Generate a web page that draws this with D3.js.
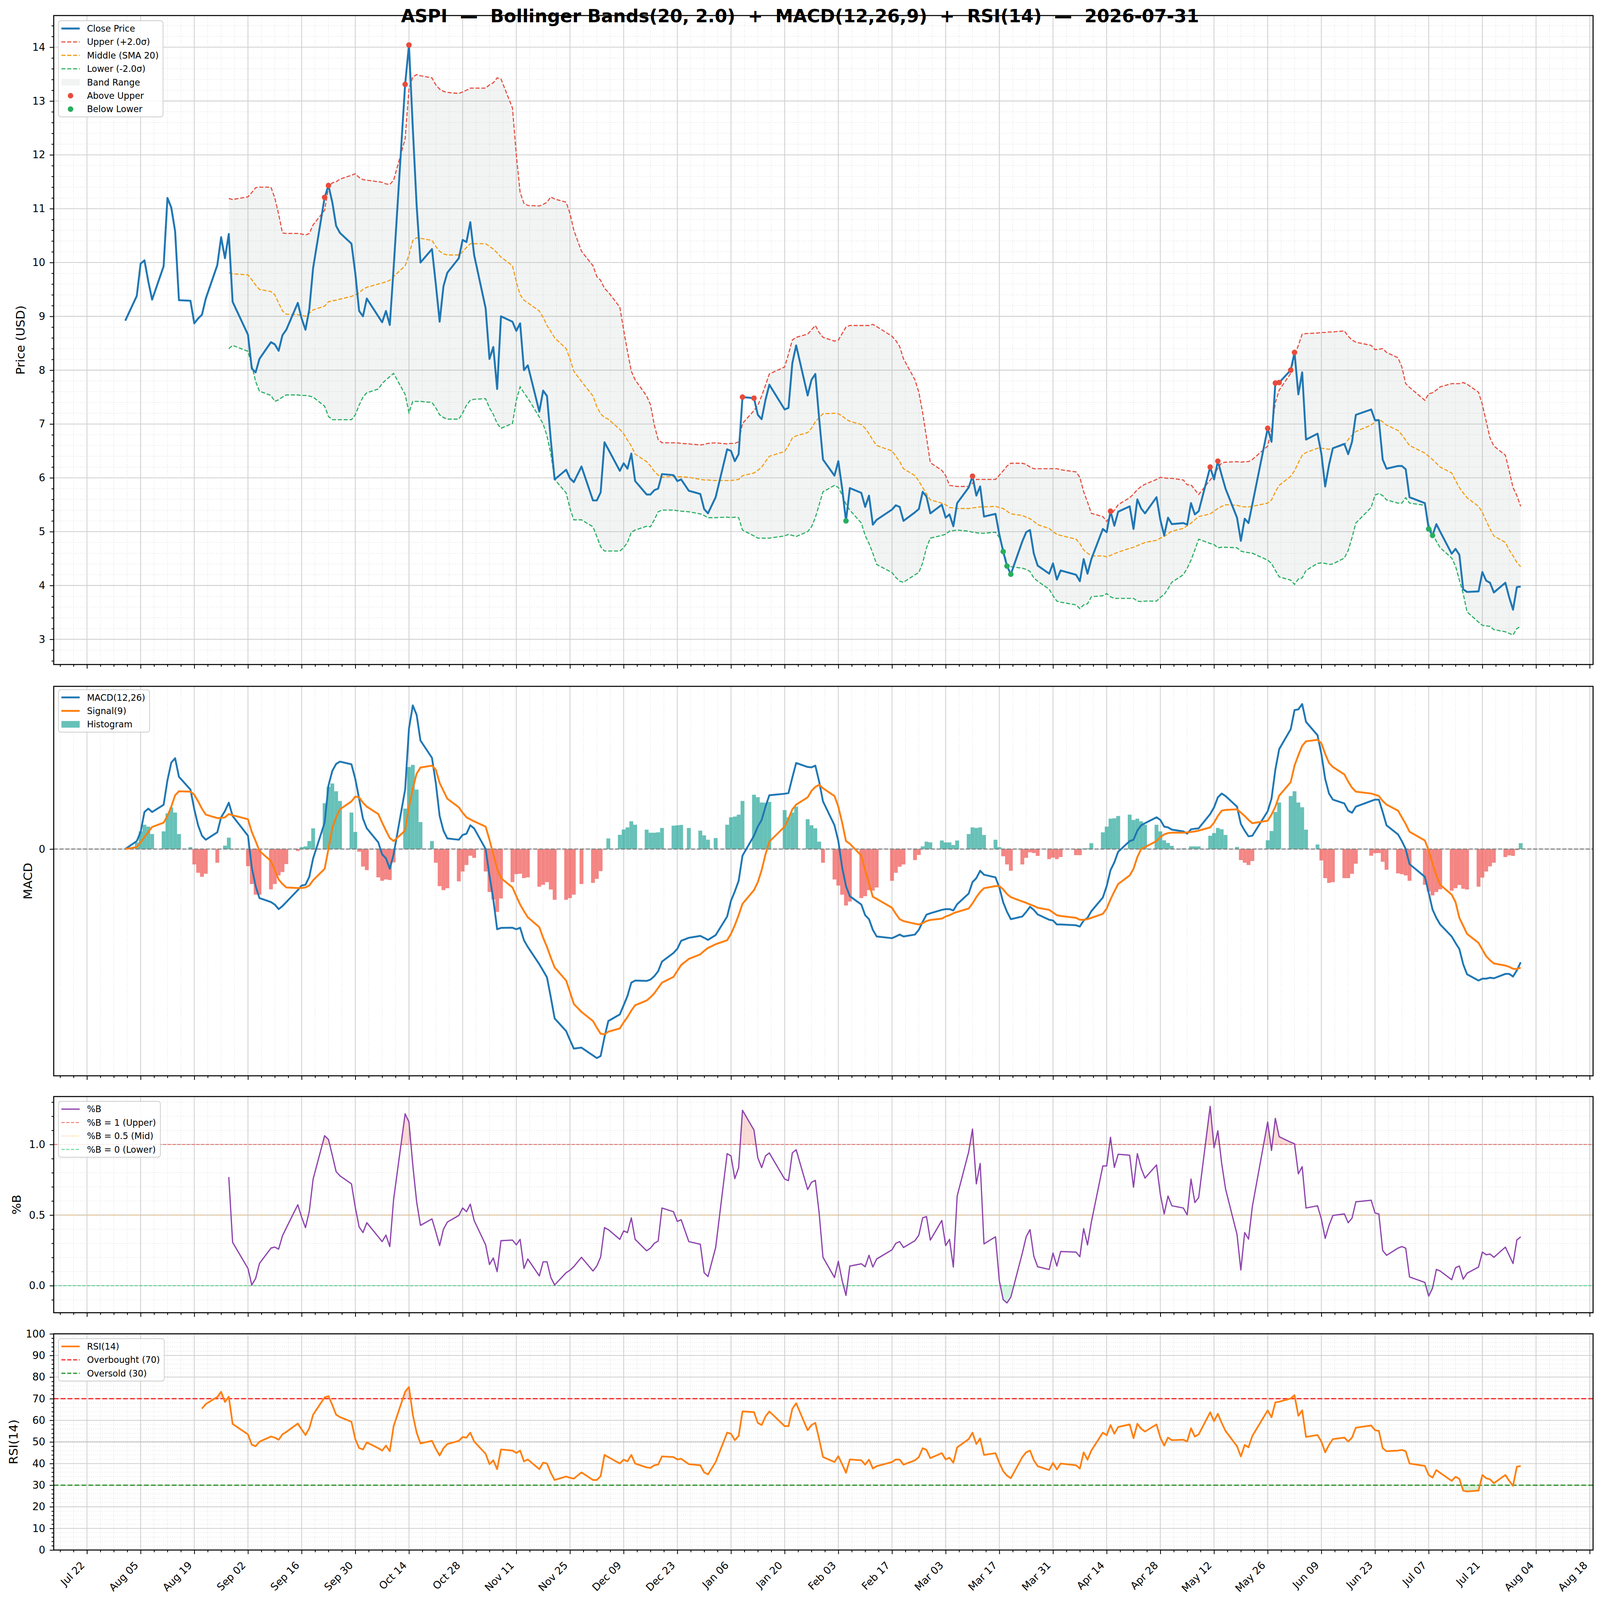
<!DOCTYPE html>
<html lang="en">
<head>
  <meta charset="UTF-8">
  <title>ASPI Bollinger / MACD / RSI</title>
  <script src="https://cdn.jsdelivr.net/npm/d3@7"></script>
  <style>
    html, body { margin: 0; padding: 0; background: #fff; overflow: hidden; width: 100%; height: 100%; }
    #chart { width: 100vw; height: 100vh; }
    svg { display: block; width: 100vw; height: 100vh; }
  </style>
</head>
<body>
  <div id="chart"></div>
  <script>
    // ---- data ----
    const tradingStart = '2025-08-01';
    const tradingEnd = '2026-07-31';
    const holidays = ['2025-09-01', '2025-11-27', '2025-12-25', '2026-01-01', '2026-01-19',
      '2026-02-16', '2026-04-03', '2026-05-25', '2026-06-19', '2026-07-03'];

    // one value per trading day, week by week
    const closePrice = [8.92,
      9.38, 9.98, 10.04, 9.65, 9.31,  9.93, 11.20, 11.02, 10.58, 9.30,  9.29, 8.87, 8.96, 9.03, 9.33,
      9.95, 10.47, 10.08, 10.53, 9.27,  8.66, 8.03, 7.96, 8.21,  8.52, 8.48, 8.36, 8.65, 8.75,
      9.25, 8.96, 8.75, 9.13, 9.90,  11.21, 11.43, 11.12, 10.68, 10.55,  10.35, 9.80, 9.10, 9.00, 9.33,
      9.00, 8.89, 9.10, 8.84, 9.90,  13.31, 14.04, 12.50, 11.06, 10.00,  10.25, 9.60, 8.90, 9.56, 9.81,
      10.08, 10.42, 10.38, 10.75, 10.14,  9.15, 8.21, 8.43, 7.65, 9.00,  8.90, 8.73, 8.87, 8.00, 8.09,
      7.23, 7.62, 7.52, 6.70, 5.97,  6.15, 5.99, 5.92, 6.21,  5.58, 5.58, 5.73, 6.66, 6.53,
      6.13, 6.27, 6.17, 6.45, 5.94,  5.69, 5.69, 5.77, 5.80, 6.07,  6.05, 5.94, 5.97, 5.76,
      5.70, 5.42, 5.34, 5.64,  6.53, 6.50, 6.31, 6.44, 7.50,  7.48, 7.17, 7.09, 7.45, 7.73,
      7.27, 7.30, 8.13, 8.46,  7.53, 7.82, 7.93, 7.10, 6.34,  6.04, 6.31, 5.80, 5.20, 5.81,
      5.72, 5.46, 5.67, 5.13, 5.22,  5.41, 5.49, 5.46, 5.20,  5.36, 5.42, 5.74, 5.65, 5.34,
      5.50, 5.26, 5.32, 5.10, 5.53,  5.82, 6.03, 5.67, 5.84, 5.28,  5.33, 4.95, 4.63, 4.36, 4.21,
      4.82, 4.99, 5.03, 4.59, 4.37,  4.22, 4.41, 4.11, 4.28,  4.20, 4.08, 4.49, 4.22, 4.49,
      5.05, 4.99, 5.38, 5.11, 5.37,  5.47, 5.05, 5.60, 5.43, 5.34,  5.64, 5.22, 4.93, 5.26, 5.14,
      5.16, 5.13, 5.53, 5.32, 5.38,  6.20, 5.97, 6.31, 6.05, 5.80,  5.26, 4.83, 5.24, 5.16, 5.51,
      6.92, 6.67, 7.76, 7.77,  8.00, 8.33, 7.55, 7.96, 6.71,  6.82, 6.45, 5.84, 6.24, 6.55,
      6.63, 6.44, 6.67, 7.17,  7.27, 7.07, 7.07, 6.34, 6.17,  6.22, 6.22, 6.16, 5.64,
      5.53, 5.05, 4.93, 5.14, 5.00,  4.59, 4.68, 4.57, 3.93, 3.88,  3.89, 4.25, 4.09, 4.05, 3.87,
      4.05, 3.78, 3.55, 3.97, 3.98];

    const bandStart = '2025-08-28';
    const upperBand = [11.19, 11.17,
      11.22, 11.30, 11.39, 11.40,  11.40, 11.20, 10.90, 10.55, 10.54,  10.54, 10.53, 10.51, 10.54, 10.70,
      10.97, 11.40, 11.48, 11.50, 11.55,  11.62, 11.65, 11.58, 11.54, 11.53,  11.50, 11.49, 11.46, 11.45, 11.53,
      12.30, 13.22, 13.45, 13.49, 13.47,  13.43, 13.30, 13.22, 13.18, 13.16,  13.14, 13.17, 13.20, 13.24, 13.24,
      13.24, 13.30, 13.34, 13.43, 13.41,  12.87, 12.00, 11.30, 11.10, 11.06,  11.05, 11.08, 11.12, 11.22, 11.18,
      11.12, 10.91, 10.60, 10.21,  9.94, 9.74, 9.67, 9.52, 9.45,  9.17, 8.75, 8.35, 7.98, 7.82,
      7.52, 7.36, 6.98, 6.71, 6.65,  6.65, 6.65, 6.64, 6.63,  6.61, 6.62, 6.64, 6.65,
      6.63, 6.64, 6.64, 6.67, 7.01,  7.25, 7.35, 7.52, 7.72, 7.93,  8.06, 8.30, 8.56, 8.61,
      8.67, 8.75, 8.83, 8.70, 8.61,  8.54, 8.56, 8.68, 8.80, 8.83,  8.83, 8.83, 8.83, 8.85, 8.81,
      8.63, 8.55, 8.44, 8.21,  7.82, 7.59, 7.21, 6.75, 6.28,  6.14, 6.04, 5.86, 5.85, 5.84,
      5.84, 5.90, 5.97, 5.97, 5.97,  5.97, 6.05, 6.13, 6.22, 6.27,  6.27, 6.25, 6.20, 6.17, 6.17,
      6.17, 6.17, 6.17, 6.15,  6.11, 6.01, 5.74, 5.55, 5.34,  5.28, 5.19, 5.30, 5.40, 5.50,
      5.63, 5.70, 5.78, 5.84, 5.88,  5.97, 6.01, 6.00, 5.99, 5.99,  5.96, 5.87, 5.87, 5.78, 5.69,
      5.96, 6.05, 6.18, 6.28, 6.29,  6.30, 6.29, 6.30, 6.30, 6.34,  6.59, 6.90, 7.40, 7.63,
      7.94, 8.27, 8.46, 8.67, 8.68,  8.69, 8.70, 8.70, 8.71, 8.71,  8.73, 8.63, 8.56, 8.52,
      8.46, 8.38, 8.39, 8.40, 8.33,  8.23, 8.06, 7.75, 7.68,  7.44, 7.56, 7.58, 7.63, 7.69,
      7.75, 7.75, 7.75, 7.77, 7.74,  7.59, 7.36, 7.05, 6.74, 6.59,  6.42, 6.13, 5.82, 5.67, 5.47];

    const middleBand = [9.81, 9.79,
      9.77, 9.68, 9.58, 9.50,  9.46, 9.40, 9.25, 9.10, 9.04,  9.03, 9.02, 9.00, 9.06, 9.12,
      9.19, 9.27, 9.29, 9.30, 9.32,  9.37, 9.40, 9.44, 9.50, 9.54,  9.60, 9.62, 9.64, 9.67, 9.74,
      9.94, 10.14, 10.41, 10.46, 10.45,  10.41, 10.30, 10.21, 10.16, 10.14,  10.14, 10.20, 10.28, 10.35, 10.35,
      10.35, 10.30, 10.25, 10.18, 10.10,  9.94, 9.64, 9.40, 9.30, 9.25,  9.10, 8.98, 8.83, 8.72, 8.60,
      8.40, 8.21, 7.98, 7.79,  7.52, 7.32, 7.19, 7.12, 7.09,  6.90, 6.82, 6.70, 6.59, 6.44,
      6.30, 6.22, 6.12, 6.05, 6.01,  6.03, 6.02, 6.02, 6.01,  5.97, 5.96, 5.96, 5.95,
      5.95, 5.95, 5.96, 5.97, 6.04,  6.09, 6.14, 6.20, 6.30, 6.40,  6.49, 6.60, 6.74, 6.78,
      6.84, 6.92, 7.04, 7.12, 7.19,  7.20, 7.19, 7.15, 7.09, 7.05,  6.99, 6.92, 6.82, 6.70, 6.60,
      6.50, 6.40, 6.30, 6.17,  6.04, 5.94, 5.82, 5.70, 5.59,  5.53, 5.50, 5.45, 5.44, 5.43,
      5.43, 5.44, 5.45, 5.46, 5.46,  5.47, 5.45, 5.43, 5.38, 5.33,  5.30, 5.27, 5.24, 5.19, 5.13,
      5.06, 5.00, 4.95, 4.93,  4.86, 4.78, 4.66, 4.60, 4.55,  4.55, 4.53, 4.56, 4.59, 4.62,
      4.69, 4.71, 4.74, 4.77, 4.80,  4.84, 4.88, 4.91, 4.96, 5.01,  5.06, 5.11, 5.16, 5.22, 5.28,
      5.33, 5.38, 5.43, 5.47, 5.50,  5.49, 5.47, 5.46, 5.46, 5.47,  5.53, 5.59, 5.74, 5.86,
      6.03, 6.13, 6.28, 6.42, 6.47,  6.55, 6.55, 6.54, 6.53, 6.55,  6.61, 6.71, 6.79, 6.86,
      6.98, 7.04, 7.09, 7.04, 6.98,  6.88, 6.80, 6.70, 6.60,  6.46, 6.40, 6.34, 6.27, 6.20,
      6.09, 5.95, 5.82, 5.72, 5.63,  5.47, 5.36, 5.20, 5.05, 4.92,  4.80, 4.66, 4.55, 4.43, 4.35];

    const lowerBand = [8.40, 8.46,
      8.35, 8.09, 7.79, 7.61,  7.53, 7.42, 7.45, 7.50, 7.54,  7.54, 7.53, 7.53, 7.52, 7.50,
      7.33, 7.14, 7.08, 7.08, 7.08,  7.08, 7.17, 7.35, 7.50, 7.58,  7.65, 7.75, 7.82, 7.88, 7.94,
      7.55, 7.21, 7.42, 7.42, 7.42,  7.40, 7.30, 7.17, 7.12, 7.09,  7.09, 7.20, 7.35, 7.44, 7.46,
      7.47, 7.30, 7.18, 7.01, 6.92,  7.01, 7.44, 7.69, 7.58, 7.48,  7.13, 7.00, 6.78, 6.45, 5.97,
      5.72, 5.43, 5.22, 5.22,  5.09, 4.91, 4.72, 4.64, 4.64,  4.64, 4.70, 4.80, 4.99, 5.03,
      5.10, 5.09, 5.22, 5.37, 5.40,  5.40, 5.39, 5.38, 5.37,  5.33, 5.30, 5.26, 5.26,
      5.27, 5.26, 5.27, 5.26, 5.03,  4.92, 4.88, 4.88, 4.88, 4.88,  4.92, 4.95, 4.93, 4.91,
      5.00, 5.09, 5.26, 5.50, 5.74,  5.86, 5.82, 5.68, 5.51, 5.40,  5.16, 4.93, 4.78, 4.60, 4.39,
      4.24, 4.15, 4.08, 4.06,  4.20, 4.24, 4.42, 4.70, 4.88,  4.93, 4.95, 5.01, 5.02, 5.03,
      5.01, 4.99, 4.98, 4.97, 4.97,  4.99, 4.89, 4.68, 4.40, 4.35,  4.32, 4.30, 4.26, 4.14, 4.08,
      3.93, 3.81, 3.71, 3.69,  3.64, 3.57, 3.64, 3.66, 3.79,  3.81, 3.85, 3.79, 3.76, 3.76,
      3.76, 3.76, 3.71, 3.70, 3.71,  3.71, 3.78, 3.83, 3.94, 4.06,  4.20, 4.32, 4.47, 4.66, 4.86,
      4.78, 4.76, 4.70, 4.71, 4.71,  4.70, 4.64, 4.62, 4.61, 4.60,  4.47, 4.41, 4.28, 4.16,
      4.10, 4.02, 4.12, 4.14, 4.28,  4.41, 4.42, 4.41, 4.39, 4.40,  4.51, 4.65, 4.89, 5.16,
      5.45, 5.68, 5.71, 5.67, 5.59,  5.53, 5.53, 5.63, 5.53,  5.49, 5.13, 4.97, 4.82, 4.70,
      4.51, 4.36, 4.10, 3.85, 3.51,  3.32, 3.26, 3.25, 3.24, 3.18,  3.14, 3.11, 3.08, 3.20, 3.24];

    const aboveUpperDates = ['2025-09-22', '2025-09-23', '2025-10-13', '2025-10-14', '2026-01-09',
      '2026-01-12', '2026-03-10', '2026-04-15', '2026-05-11', '2026-05-13', '2026-05-26',
      '2026-05-28', '2026-05-29', '2026-06-01', '2026-06-02'];
    const belowLowerDates = ['2026-02-05', '2026-03-18', '2026-03-19', '2026-03-20', '2026-07-07', '2026-07-08'];

    const macdLine = [0,
      0.042, 0.09, 0.195, 0.213, 0.195,  0.233, 0.362, 0.455, 0.478, 0.38,  0.313, 0.209, 0.125, 0.07, 0.049,
      0.088, 0.167, 0.2, 0.244, 0.174,  0.07, -0.097, -0.195, -0.258,  -0.279, -0.292, -0.316, -0.3, -0.279,
      -0.216, -0.192, -0.188, -0.146, -0.049,  0.139, 0.334, 0.411, 0.448, 0.46,  0.446, 0.369, 0.265, 0.16, 0.109,
      0.035, -0.028, -0.049, -0.104, -0.028,  0.313, 0.634, 0.756, 0.706, 0.571,  0.48, 0.348, 0.174, 0.097, 0.056,
      0.049, 0.074, 0.081, 0.125, 0.109,  0.0, -0.139, -0.265, -0.422, -0.415,  -0.414, -0.422, -0.414, -0.48, -0.515,
      -0.606, -0.64, -0.675, -0.78, -0.891,  -0.958, -1.005, -1.05, -1.045,  -1.086, -1.1, -1.089, -0.99, -0.905,
      -0.87, -0.822, -0.773, -0.703, -0.692,  -0.694, -0.687, -0.669, -0.643, -0.592,  -0.547, -0.525, -0.483, -0.467,
      -0.457, -0.467, -0.478, -0.453,  -0.355, -0.272, -0.223, -0.167, -0.035,  0.07, 0.118, 0.153, 0.223, 0.283,
      0.291, 0.295, 0.376, 0.453,  0.432, 0.43, 0.439, 0.355, 0.251,  0.125, 0.042, -0.097, -0.195, -0.248,
      -0.292, -0.348, -0.369, -0.425, -0.46,  -0.469, -0.46, -0.45, -0.46,  -0.45, -0.425, -0.383, -0.345, -0.338,
      -0.32, -0.316, -0.316, -0.323, -0.29,  -0.234, -0.174, -0.153, -0.114, -0.135,  -0.149, -0.202, -0.28, -0.33, -0.369,
      -0.355, -0.331, -0.304, -0.32, -0.344,  -0.372, -0.376, -0.397, -0.397,  -0.401, -0.408, -0.376, -0.362, -0.327,
      -0.255, -0.195, -0.111, -0.07, -0.014,  0.042, 0.049, 0.097, 0.125, 0.136,  0.167, 0.153, 0.118, 0.114, 0.102,
      0.093, 0.081, 0.104, 0.107, 0.109,  0.184, 0.219, 0.272, 0.292, 0.279,  0.223, 0.132, 0.097, 0.067, 0.07,
      0.199, 0.265, 0.418, 0.526,  0.63, 0.731, 0.735, 0.763, 0.669,  0.599, 0.501, 0.369, 0.292, 0.26,
      0.24, 0.202, 0.191, 0.223,  0.253, 0.26, 0.26, 0.195, 0.125,  0.077, 0.042, 0.0, -0.079,
      -0.146, -0.23, -0.318, -0.362, -0.397,  -0.46, -0.494, -0.526, -0.606, -0.659,  -0.692, -0.682, -0.682, -0.677, -0.68,
      -0.657, -0.657, -0.671, -0.638, -0.596];

    const signalLine = [0,
      0.01, 0.035, 0.063, 0.09, 0.116,  0.139, 0.174, 0.223, 0.283, 0.304,  0.302, 0.286, 0.251, 0.212, 0.181,
      0.163, 0.164, 0.167, 0.184, 0.178,  0.157, 0.09, 0.042, -0.01,  -0.063, -0.111, -0.16, -0.184, -0.202,
      -0.205, -0.205, -0.202, -0.192, -0.164,  -0.104, 0.0, 0.111, 0.167, 0.209,  0.251, 0.276, 0.272, 0.244, 0.223,
      0.184, 0.139, 0.097, 0.058, 0.042,  0.097, 0.223, 0.318, 0.397, 0.429,  0.439, 0.418, 0.348, 0.306, 0.265,
      0.22, 0.191, 0.167, 0.156, 0.146,  0.118, 0.049, -0.028, -0.104, -0.153,  -0.202, -0.248, -0.292, -0.327, -0.359,
      -0.411, -0.467, -0.515, -0.571, -0.623,  -0.692, -0.752, -0.815, -0.857,  -0.905, -0.94, -0.972, -0.975, -0.961,
      -0.944, -0.912, -0.884, -0.85, -0.822,  -0.797, -0.78, -0.759, -0.731, -0.703,  -0.673, -0.641, -0.61, -0.578,
      -0.554, -0.536, -0.52, -0.501,  -0.48, -0.446, -0.401, -0.348, -0.288,  -0.216, -0.174, -0.111, -0.028, 0.039,
      0.118, 0.16, 0.209, 0.234,  0.272, 0.306, 0.327, 0.338, 0.32,  0.279, 0.223, 0.139, 0.042, 0.028,
      -0.035, -0.111, -0.181, -0.251, -0.262,  -0.309, -0.341, -0.369, -0.379,  -0.393, -0.397, -0.39, -0.379, -0.373,
      -0.366, -0.355, -0.348, -0.338, -0.331,  -0.313, -0.286, -0.253, -0.226, -0.206,  -0.195, -0.195, -0.212, -0.237, -0.253,
      -0.276, -0.283, -0.292, -0.299, -0.309,  -0.32, -0.334, -0.348, -0.352,  -0.362, -0.372, -0.372, -0.369, -0.362,
      -0.341, -0.313, -0.265, -0.223, -0.184,  -0.139, -0.104, -0.042, 0.0, 0.01,  0.042, 0.063, 0.077, 0.084, 0.086,
      0.086, 0.088, 0.09, 0.093, 0.097,  0.114, 0.139, 0.174, 0.202, 0.206,  0.209, 0.192, 0.174, 0.153, 0.136,
      0.149, 0.181, 0.223, 0.281,  0.352, 0.439, 0.494, 0.543, 0.567,  0.575, 0.557, 0.501, 0.453, 0.432,
      0.393, 0.355, 0.323, 0.302,  0.292, 0.286, 0.279, 0.253, 0.234,  0.202, 0.167, 0.132, 0.091,
      0.045, -0.007, -0.077, -0.139, -0.188,  -0.24, -0.279, -0.362, -0.404, -0.446,  -0.494, -0.529, -0.564, -0.585, -0.602,
      -0.613, -0.62, -0.63, -0.631, -0.624];

    const macdHist = [0,
      0.035, 0.093, 0.128, 0.118, 0.079,  0.093, 0.188, 0.219, 0.192, 0.079,  0.01, -0.081, -0.125, -0.146, -0.13,
      -0.072, 0.0, 0.018, 0.06, -0.003,  -0.09, -0.184, -0.24, -0.24,  -0.212, -0.184, -0.139, -0.121, -0.079,
      -0.01, 0.01, 0.014, 0.042, 0.109,  0.241, 0.327, 0.345, 0.304, 0.253,  0.192, 0.09, -0.014, -0.092, -0.111,
      -0.149, -0.167, -0.16, -0.163, -0.07,  0.213, 0.432, 0.443, 0.313, 0.142,  0.042, -0.072, -0.195, -0.216, -0.206,
      -0.17, -0.118, -0.084, -0.035, -0.046,  -0.118, -0.226, -0.265, -0.331, -0.26,  -0.174, -0.132, -0.13, -0.153, -0.149,
      -0.198, -0.188, -0.174, -0.213, -0.267,  -0.267, -0.258, -0.24, -0.184,  -0.178, -0.157, -0.116, -0.003, 0.056,
      0.075, 0.103, 0.114, 0.146, 0.128,  0.102, 0.086, 0.086, 0.088, 0.111,  0.123, 0.125, 0.127, 0.111,
      0.097, 0.072, 0.049, 0.058,  0.128, 0.167, 0.171, 0.181, 0.253,  0.286, 0.273, 0.245, 0.244, 0.248,
      0.205, 0.167, 0.192, 0.223,  0.157, 0.125, 0.109, 0.039, -0.072,  -0.16, -0.192, -0.24, -0.297, -0.276,
      -0.258, -0.248, -0.216, -0.219, -0.202,  -0.167, -0.125, -0.093, -0.081,  -0.058, -0.031, 0.014, 0.039, 0.035,
      0.045, 0.035, 0.035, 0.021, 0.045,  0.079, 0.114, 0.111, 0.114, 0.074,  0.049, 0.01, -0.038, -0.081, -0.114,
      -0.081, -0.046, -0.017, -0.021, -0.036,  -0.053, -0.045, -0.053, -0.042,  -0.032, -0.032, 0.003, 0.004, 0.031,
      0.088, 0.118, 0.16, 0.162, 0.174,  0.181, 0.153, 0.16, 0.146, 0.128,  0.128, 0.093, 0.046, 0.032, 0.017,
      0.004, 0.0, 0.014, 0.014, 0.014,  0.07, 0.084, 0.111, 0.104, 0.074,  0.011, -0.058, -0.072, -0.084, -0.063,
      0.046, 0.095, 0.195, 0.245,  0.279, 0.304, 0.245, 0.22, 0.102,  0.024, -0.06, -0.153, -0.178, -0.174,
      -0.153, -0.153, -0.13, -0.077,  -0.035, -0.022, -0.021, -0.067, -0.109,  -0.128, -0.132, -0.139, -0.167,
      -0.188, -0.223, -0.244, -0.226, -0.212,  -0.219, -0.206, -0.189, -0.209, -0.213,  -0.198, -0.15, -0.118, -0.091, -0.072,
      -0.042, -0.033, -0.036, -0.005, 0.031];

    const percentB = [0.769, 0.307,
      0.122, 0.005, 0.051, 0.157,  0.266, 0.273, 0.259, 0.353, 0.409,  0.573, 0.485, 0.411, 0.527, 0.755,
      1.062, 1.035, 0.924, 0.808, 0.778,  0.721, 0.554, 0.416, 0.376, 0.446,  0.346, 0.312, 0.358, 0.277, 0.612,
      1.217, 1.159, 0.854, 0.594, 0.427,  0.473, 0.381, 0.284, 0.4, 0.45,  0.497, 0.55, 0.524, 0.577, 0.462,
      0.289, 0.15, 0.196, 0.099, 0.319,  0.323, 0.289, 0.328, 0.122, 0.189,  0.069, 0.169, 0.169, 0.058, 0.005,
      0.092, 0.109, 0.135, 0.201,  0.104, 0.139, 0.203, 0.411, 0.397,  0.328, 0.388, 0.376, 0.48, 0.328,
      0.247, 0.266, 0.3, 0.316, 0.55,  0.524, 0.455, 0.467, 0.312,  0.293, 0.092, 0.065, 0.27,
      0.935, 0.919, 0.758, 0.836, 1.242,  1.102, 0.905, 0.836, 0.919, 0.94,  0.755, 0.744, 0.94, 0.963,
      0.681, 0.732, 0.746, 0.515, 0.201,  0.058, 0.173, 0.035, -0.069, 0.139,  0.155, 0.134, 0.215, 0.132, 0.189,
      0.254, 0.3, 0.312, 0.27,  0.319, 0.358, 0.48, 0.49, 0.323,  0.462, 0.284, 0.328, 0.132, 0.635,
      0.947, 1.109, 0.721, 0.866, 0.296,  0.346, 0.035, -0.099, -0.122, -0.081,  0.231, 0.346, 0.397, 0.208, 0.134,
      0.115, 0.231, 0.139, 0.242,  0.238, 0.205, 0.404, 0.289, 0.45,  0.848, 0.848, 1.051, 0.838, 0.931,
      0.924, 0.697, 0.935, 0.831, 0.762,  0.855, 0.647, 0.508, 0.635, 0.566,  0.55, 0.501, 0.755, 0.589, 0.624,
      1.27, 0.977, 1.097, 0.866, 0.686,  0.363, 0.111, 0.376, 0.33, 0.561,  1.159, 0.958, 1.185, 1.055,
      1.016, 1.005, 0.792, 0.843, 0.55,  0.566, 0.473, 0.335, 0.427, 0.497,  0.508, 0.446, 0.478, 0.594,
      0.605, 0.515, 0.508, 0.249, 0.215,  0.266, 0.277, 0.266, 0.062,  0.023, -0.074, -0.018, 0.115, 0.104,
      0.042, 0.127, 0.139, 0.046, 0.088,  0.132, 0.238, 0.219, 0.224, 0.201,  0.273, 0.215, 0.157, 0.323, 0.346];

    const rsiStart = '2025-08-21';
    const rsi14 = [65.4, 67.5,
      70.8, 73.2, 68.5, 70.9, 58.3,  53.5, 48.7, 48.0, 50.1,  52.5, 52.0, 51.0, 53.5, 54.6,
      58.5, 55.8, 53.2, 56.3, 62.6,  70.6, 71.2, 67.1, 62.6, 61.5,  59.3, 51.3, 47.2, 46.5, 49.8,
      47.1, 46.0, 48.3, 45.7, 57.3,  73.2, 75.4, 62.6, 54.3, 49.3,  50.5, 46.8, 43.7, 47.1, 49.0,
      50.5, 52.3, 52.0, 54.3, 50.2,  44.5, 39.7, 41.5, 37.4, 46.5,  46.0, 44.9, 46.0, 41.0, 41.9,
      37.4, 40.4, 40.0, 35.7, 32.4,  34.0, 33.4, 33.0, 35.9,  32.4, 32.4, 34.2, 44.0, 43.0,
      40.0, 41.8, 41.0, 44.0, 40.0,  38.2, 38.0, 39.2, 39.5, 43.3,  43.0, 41.9, 42.2, 39.7,
      39.2, 35.9, 35.0, 40.7,  54.3, 53.8, 50.8, 52.8, 64.1,  63.8, 58.8, 57.8, 61.8, 64.1,
      57.3, 57.3, 65.3, 67.9,  55.4, 57.8, 58.8, 51.3, 43.0,  40.7, 43.4, 39.7, 35.7, 41.9,
      41.5, 39.5, 41.8, 37.7, 38.8,  40.7, 41.9, 41.8, 39.5,  41.5, 43.0, 47.1, 46.3, 42.5,
      44.8, 41.9, 42.7, 40.4, 47.5,  51.3, 54.3, 49.0, 51.6, 44.0,  44.8, 40.3, 36.5, 34.4, 33.2,
      43.0, 45.2, 46.0, 41.5, 38.8,  37.0, 40.3, 37.3, 40.0,  39.2, 37.7, 45.2, 41.8, 46.0,
      54.3, 53.1, 57.8, 53.8, 56.9,  58.1, 51.7, 58.4, 56.1, 54.8,  58.1, 52.0, 48.3, 52.0, 50.8,
      51.0, 50.2, 56.3, 52.5, 53.5,  63.7, 59.6, 63.0, 58.8, 55.1,  48.0, 43.3, 48.6, 47.5, 52.8,
      64.6, 61.4, 68.3, 68.6,  70.1, 71.6, 62.1, 64.6, 52.3,  53.2, 50.2, 45.2, 48.6, 51.3,
      52.0, 50.2, 52.0, 56.6,  57.6, 55.4, 55.1, 47.1, 45.7,  46.0, 46.3, 45.7, 40.0,
      38.9, 34.7, 33.5, 37.0, 35.7,  32.0, 33.9, 32.9, 27.5, 27.1,  27.5, 34.7, 33.2, 32.7, 30.9,
      34.7, 32.0, 29.7, 38.5, 38.9];

    const firstTick = '2025-07-22';
    const tickStepDays = 14;
    const tickCount = 29;
    const titleText = 'ASPI  \u2014  Bollinger Bands(20, 2.0)  +  MACD(12,26,9)  +  RSI(14)  \u2014  2026-07-31';

    // ---- layout ----
    const W = 4378, H = 4322;
    const plotLeft = 147, plotRight = 4359;
    const panels = {
      price: { top: 42, bottom: 1795 },
      macd: { top: 1854, bottom: 2906 },
      pctb: { top: 2962, bottom: 3546 },
      rsi: { top: 3603, bottom: 4187 }
    };
    const FONT = "'DejaVu Sans', 'Liberation Sans', sans-serif";

    const parse = d3.utcParse('%Y-%m-%d');
    const fmtDay = d3.utcFormat('%Y-%m-%d');
    const holidaySet = new Set(holidays);
    const days = d3.utcDays(parse(tradingStart), d3.utcDay.offset(parse(tradingEnd), 1))
      .filter(d => d.getUTCDay() % 6 !== 0 && !holidaySet.has(fmtDay(d)));

    function series(start, values) {
      const i0 = days.findIndex(d => fmtDay(d) === start);
      if (i0 + values.length !== days.length) console.warn('length mismatch', start, values.length, days.length - i0);
      return values.map((v, i) => ({ date: days[i0 + i], value: v })).filter(p => p.date);
    }

    const closeS = series(tradingStart, closePrice);
    const upperS = series(bandStart, upperBand);
    const middleS = series(bandStart, middleBand);
    const lowerS = series(bandStart, lowerBand);
    const pctS = series(bandStart, percentB);
    const rsiS = series(rsiStart, rsi14);
    const macdS = series(tradingStart, macdLine);
    const signalS = series(tradingStart, signalLine);
    const histS = series(tradingStart, macdHist);
    const closeByDay = new Map(closeS.map(p => [fmtDay(p.date), p.value]));

    // ---- scales ----
    const x = d3.scaleUtc()
      .domain([new Date(Date.UTC(2025, 6, 13, 8)), new Date(Date.UTC(2026, 7, 18, 21))])
      .range([plotLeft, plotRight]);

    function padded(vals) {
      const [lo, hi] = d3.extent(vals);
      const m = (hi - lo) * 0.05;
      return [lo - m, hi + m];
    }
    const yPrice = d3.scaleLinear()
      .domain(padded([...closePrice, ...upperBand, ...lowerBand]))
      .range([panels.price.bottom, panels.price.top]);
    const yMacd = d3.scaleLinear()
      .domain(padded([...macdLine, ...signalLine, ...macdHist]))
      .range([panels.macd.bottom, panels.macd.top]);
    const yPct = d3.scaleLinear()
      .domain(padded(percentB))
      .range([panels.pctb.bottom, panels.pctb.top]);
    const yRsi = d3.scaleLinear().domain([0, 100]).range([panels.rsi.bottom, panels.rsi.top]);

    const xMajor = d3.range(tickCount).map(i => d3.utcDay.offset(parse(firstTick), i * tickStepDays));
    const xMinor = d3.range(-8, tickCount * 4 + 4)
      .map(i => d3.utcHour.offset(parse(firstTick), i * 84))
      .filter((d, i) => (i % 4 !== 0) && d >= x.domain()[0] && d <= x.domain()[1]);

    // ---- svg (scaled to whatever the window really is) ----
    const svg = d3.select('#chart').append('svg')
      .attr('viewBox', `0 0 ${W} ${H}`)
      .attr('preserveAspectRatio', 'none')
      .style('font-family', FONT);
    svg.append('rect').attr('width', W).attr('height', H).attr('fill', '#ffffff');
    const defs = svg.append('defs');

    Object.entries(panels).forEach(([k, p]) => {
      defs.append('clipPath').attr('id', 'clip-' + k).append('rect')
        .attr('x', plotLeft).attr('y', p.top).attr('width', plotRight - plotLeft).attr('height', p.bottom - p.top);
    });

    function grid(p, y, majorY, minorY) {
      const g = svg.append('g');
      const w = plotRight - plotLeft;
      g.selectAll('.vmin').data(xMinor).join('line')
        .attr('x1', d => x(d)).attr('x2', d => x(d)).attr('y1', p.top).attr('y2', p.bottom)
        .attr('stroke', '#dedede').attr('stroke-width', 1.6).attr('stroke-dasharray', '2,4');
      g.selectAll('.hmin').data(minorY).join('line')
        .attr('x1', plotLeft).attr('x2', plotLeft + w).attr('y1', d => y(d)).attr('y2', d => y(d))
        .attr('stroke', '#dedede').attr('stroke-width', 1.6).attr('stroke-dasharray', '2,4');
      g.selectAll('.vmaj').data(xMajor).join('line')
        .attr('x1', d => x(d)).attr('x2', d => x(d)).attr('y1', p.top).attr('y2', p.bottom)
        .attr('stroke', '#cfcfcf').attr('stroke-width', 2.2);
      g.selectAll('.hmaj').data(majorY).join('line')
        .attr('x1', plotLeft).attr('x2', plotLeft + w).attr('y1', d => y(d)).attr('y2', d => y(d))
        .attr('stroke', '#cfcfcf').attr('stroke-width', 2.2);
    }

    function axes(p, y, majorY, minorY, yFmt, withLabels) {
      const g = svg.append('g');
      g.append('g').attr('transform', `translate(${plotLeft},0)`)
        .call(d3.axisLeft(y).tickValues(majorY).tickSize(11).tickPadding(12).tickFormat(yFmt));
      if (minorY.length) {
        g.append('g').attr('transform', `translate(${plotLeft},0)`)
          .call(d3.axisLeft(y).tickValues(minorY).tickSize(6).tickFormat(''));
      }
      const xb = g.append('g').attr('transform', `translate(0,${p.bottom})`)
        .call(d3.axisBottom(x).tickValues(xMajor).tickSize(11).tickPadding(12)
          .tickFormat(withLabels ? d3.utcFormat('%b %d') : ''));
      g.append('g').attr('transform', `translate(0,${p.bottom})`)
        .call(d3.axisBottom(x).tickValues(xMinor).tickSize(6).tickFormat(''));
      g.selectAll('.domain').remove();
      g.selectAll('.tick line').attr('stroke', '#000').attr('stroke-width', 2.2);
      g.selectAll('.tick text').attr('font-size', 28).attr('fill', '#000').attr('font-family', FONT);
      if (withLabels) {
        xb.selectAll('.tick text')
          .attr('x', 0).attr('y', 0).attr('dy', null)
          .attr('text-anchor', 'end')
          .attr('transform', 'translate(-5,43) rotate(-45)');
      }
      // spines
      svg.append('rect').attr('x', plotLeft).attr('y', p.top)
        .attr('width', plotRight - plotLeft).attr('height', p.bottom - p.top)
        .attr('fill', 'none').attr('stroke', '#000').attr('stroke-width', 2.8);
    }

    function ylabel(text, cx, p) {
      const cy = (p.top + p.bottom) / 2;
      svg.append('text').attr('transform', `translate(${cx},${cy}) rotate(-90)`)
        .attr('text-anchor', 'middle').attr('dominant-baseline', 'central')
        .attr('font-size', 33).attr('fill', '#000').text(text);
    }

    function legend(x0, y0, items) {
      const g = svg.append('g');
      const box = g.append('rect');
      const rowH = 36.3, pad = 21;
      let maxW = 0;
      items.forEach((it, i) => {
        const cy = y0 + pad + i * rowH;
        if (it.type === 'line') {
          g.append('line').attr('x1', x0 + 8).attr('x2', x0 + 58).attr('y1', cy).attr('y2', cy)
            .attr('stroke', it.color).attr('stroke-width', it.width || 3)
            .attr('stroke-dasharray', it.dash || null).attr('opacity', it.opacity || 1);
        } else if (it.type === 'patch') {
          g.append('rect').attr('x', x0 + 8).attr('y', cy - 9).attr('width', 50).attr('height', 18)
            .attr('fill', it.color).attr('fill-opacity', it.opacity || 1)
            .attr('stroke', it.stroke || 'none').attr('stroke-width', 1);
        } else {
          g.append('circle').attr('cx', x0 + 33).attr('cy', cy).attr('r', 7.5).attr('fill', it.color);
        }
        const t = g.append('text').attr('x', x0 + 78).attr('y', cy).attr('dominant-baseline', 'central')
          .attr('font-size', 24).attr('fill', '#000').text(it.label);
        maxW = Math.max(maxW, t.node().getComputedTextLength());
      });
      box.attr('x', x0).attr('y', y0).attr('width', 78 + maxW + 12)
        .attr('height', pad * 2 + (items.length - 1) * rowH)
        .attr('rx', 7).attr('fill', '#fff').attr('fill-opacity', 0.85)
        .attr('stroke', '#cccccc').attr('stroke-width', 2);
    }

    const line = (y) => d3.line().x(d => x(d.date)).y(d => y(d.value));

    // ================= price panel =================
    const P = panels.price;
    const priceMajor = d3.range(3, 15);
    const priceMinor = d3.range(13, 73).map(i => i / 5).filter(v => v % 1 !== 0);
    grid(P, yPrice, priceMajor, priceMinor);
    const gp = svg.append('g').attr('clip-path', 'url(#clip-price)');
    const bandRows = upperS.map((u, i) => ({ date: u.date, hi: u.value, lo: lowerS[i].value }));
    gp.append('path').datum(bandRows)
      .attr('d', d3.area().x(d => x(d.date)).y0(d => yPrice(d.lo)).y1(d => yPrice(d.hi)))
      .attr('fill', '#95a5a6').attr('fill-opacity', 0.12);
    [[upperS, '#e74c3c'], [middleS, '#f39c12'], [lowerS, '#27ae60']].forEach(([s, c]) => {
      gp.append('path').datum(s).attr('d', line(yPrice)).attr('fill', 'none')
        .attr('stroke', c).attr('stroke-width', 3).attr('stroke-dasharray', '11,5');
    });
    gp.append('path').datum(closeS).attr('d', line(yPrice)).attr('fill', 'none')
      .attr('stroke', '#1f77b4').attr('stroke-width', 5.2).attr('stroke-linejoin', 'round');
    gp.selectAll('.above').data(aboveUpperDates).join('circle')
      .attr('cx', d => x(parse(d))).attr('cy', d => yPrice(closeByDay.get(d)))
      .attr('r', 7.5).attr('fill', '#e74c3c');
    gp.selectAll('.below').data(belowLowerDates).join('circle')
      .attr('cx', d => x(parse(d))).attr('cy', d => yPrice(closeByDay.get(d)))
      .attr('r', 7.5).attr('fill', '#27ae60');
    axes(P, yPrice, priceMajor, priceMinor.filter(v => v > yPrice.domain()[0] && v < yPrice.domain()[1]), d3.format('d'), false);
    ylabel('Price (USD)', 56, P);
    legend(160, 56, [
      { type: 'line', label: 'Close Price', color: '#1f77b4', width: 5.2 },
      { type: 'line', label: 'Upper (+2.0\u03c3)', color: '#e74c3c', dash: '11,5' },
      { type: 'line', label: 'Middle (SMA 20)', color: '#f39c12', dash: '11,5' },
      { type: 'line', label: 'Lower (-2.0\u03c3)', color: '#27ae60', dash: '11,5' },
      { type: 'patch', label: 'Band Range', color: '#95a5a6', opacity: 0.12 },
      { type: 'dot', label: 'Above Upper', color: '#e74c3c' },
      { type: 'dot', label: 'Below Lower', color: '#27ae60' }
    ]);

    // ================= MACD panel =================
    const M = panels.macd;
    grid(M, yMacd, [0], []);
    const gm = svg.append('g').attr('clip-path', 'url(#clip-macd)');
    gm.selectAll('rect.bar').data(histS).join('rect').attr('class', 'bar')
      .attr('x', d => x(d3.utcHour.offset(d.date, -12)))
      .attr('width', d => x(d3.utcHour.offset(d.date, 12)) - x(d3.utcHour.offset(d.date, -12)))
      .attr('y', d => Math.min(yMacd(d.value), yMacd(0)))
      .attr('height', d => Math.abs(yMacd(d.value) - yMacd(0)))
      .attr('fill', d => d.value >= 0 ? '#26a69a' : '#ef5350').attr('fill-opacity', 0.7);
    gm.append('line').attr('x1', plotLeft).attr('x2', plotRight)
      .attr('y1', yMacd(0)).attr('y2', yMacd(0))
      .attr('stroke', '#808080').attr('stroke-width', 3).attr('stroke-dasharray', '11,5');
    gm.append('path').datum(macdS).attr('d', line(yMacd)).attr('fill', 'none')
      .attr('stroke', '#1f77b4').attr('stroke-width', 5).attr('stroke-linejoin', 'round');
    gm.append('path').datum(signalS).attr('d', line(yMacd)).attr('fill', 'none')
      .attr('stroke', '#ff7f0e').attr('stroke-width', 5).attr('stroke-linejoin', 'round');
    axes(M, yMacd, [0], [], d3.format('d'), false);
    ylabel('MACD', 76, M);
    legend(160, 1863, [
      { type: 'line', label: 'MACD(12,26)', color: '#1f77b4', width: 5 },
      { type: 'line', label: 'Signal(9)', color: '#ff7f0e', width: 5 },
      { type: 'patch', label: 'Histogram', color: '#26a69a', opacity: 0.7 }
    ]);

    // ================= %B panel =================
    const B = panels.pctb;
    const pctMajor = [0, 0.5, 1.0];
    const pctMinor = d3.range(-1, 14).map(i => i / 10)
      .filter(v => !pctMajor.includes(v) && v > yPct.domain()[0] && v < yPct.domain()[1]);
    grid(B, yPct, pctMajor, pctMinor);
    const gb = svg.append('g').attr('clip-path', 'url(#clip-pctb)');
    defs.append('clipPath').attr('id', 'clip-b-hi').append('rect')
      .attr('x', plotLeft).attr('y', B.top).attr('width', plotRight - plotLeft).attr('height', yPct(1) - B.top);
    defs.append('clipPath').attr('id', 'clip-b-lo').append('rect')
      .attr('x', plotLeft).attr('y', yPct(0)).attr('width', plotRight - plotLeft).attr('height', B.bottom - yPct(0));
    gb.append('path').datum(pctS).attr('clip-path', 'url(#clip-b-hi)')
      .attr('d', d3.area().x(d => x(d.date)).y0(yPct(1)).y1(d => yPct(d.value)))
      .attr('fill', '#e74c3c').attr('fill-opacity', 0.2);
    gb.append('path').datum(pctS).attr('clip-path', 'url(#clip-b-lo)')
      .attr('d', d3.area().x(d => x(d.date)).y0(yPct(0)).y1(d => yPct(d.value)))
      .attr('fill', '#2ecc71').attr('fill-opacity', 0.2);
    const pctRefs = [
      { v: 1, color: '#e74c3c', dash: '9,4', op: 0.7, label: '%B = 1 (Upper)' },
      { v: 0.5, color: '#f39c12', dash: '2,3', op: 0.6, label: '%B = 0.5 (Mid)' },
      { v: 0, color: '#2ecc71', dash: '9,4', op: 0.7, label: '%B = 0 (Lower)' }
    ];
    pctRefs.forEach(r => {
      gb.append('line').attr('x1', plotLeft).attr('x2', plotRight)
        .attr('y1', yPct(r.v)).attr('y2', yPct(r.v))
        .attr('stroke', r.color).attr('stroke-opacity', r.op)
        .attr('stroke-width', 2.6).attr('stroke-dasharray', r.dash);
    });
    gb.append('path').datum(pctS).attr('d', line(yPct)).attr('fill', 'none')
      .attr('stroke', '#8e44ad').attr('stroke-width', 3.4).attr('stroke-linejoin', 'round');
    axes(B, yPct, pctMajor, pctMinor, d3.format('.1f'), false);
    ylabel('%B', 45, B);
    legend(160, 2975, [
      { type: 'line', label: '%B', color: '#8e44ad', width: 3.4 },
      ...pctRefs.map(r => ({ type: 'line', label: r.label, color: r.color, dash: r.dash, opacity: r.op, width: 2.6 }))
    ]);

    // ================= RSI panel =================
    const R = panels.rsi;
    const rsiMajor = d3.range(0, 101, 10);
    const rsiMinor = d3.range(0, 101, 2).filter(v => v % 10 !== 0);
    grid(R, yRsi, rsiMajor, rsiMinor);
    const gr = svg.append('g').attr('clip-path', 'url(#clip-rsi)');
    defs.append('clipPath').attr('id', 'clip-r-hi').append('rect')
      .attr('x', plotLeft).attr('y', R.top).attr('width', plotRight - plotLeft).attr('height', yRsi(70) - R.top);
    defs.append('clipPath').attr('id', 'clip-r-lo').append('rect')
      .attr('x', plotLeft).attr('y', yRsi(30)).attr('width', plotRight - plotLeft).attr('height', R.bottom - yRsi(30));
    gr.append('path').datum(rsiS).attr('clip-path', 'url(#clip-r-hi)')
      .attr('d', d3.area().x(d => x(d.date)).y0(yRsi(70)).y1(d => yRsi(d.value)))
      .attr('fill', '#ff0000').attr('fill-opacity', 0.15);
    gr.append('path').datum(rsiS).attr('clip-path', 'url(#clip-r-lo)')
      .attr('d', d3.area().x(d => x(d.date)).y0(yRsi(30)).y1(d => yRsi(d.value)))
      .attr('fill', '#00a000').attr('fill-opacity', 0.15);
    gr.append('line').attr('x1', plotLeft).attr('x2', plotRight).attr('y1', yRsi(50)).attr('y2', yRsi(50))
      .attr('stroke', '#808080').attr('stroke-opacity', 0.6).attr('stroke-width', 2.6).attr('stroke-dasharray', '2,3');
    gr.append('line').attr('x1', plotLeft).attr('x2', plotRight).attr('y1', yRsi(70)).attr('y2', yRsi(70))
      .attr('stroke', '#ff0000').attr('stroke-opacity', 0.8).attr('stroke-width', 3.4).attr('stroke-dasharray', '13,6');
    gr.append('line').attr('x1', plotLeft).attr('x2', plotRight).attr('y1', yRsi(30)).attr('y2', yRsi(30))
      .attr('stroke', '#008000').attr('stroke-opacity', 0.8).attr('stroke-width', 3.4).attr('stroke-dasharray', '13,6');
    gr.append('path').datum(rsiS).attr('d', line(yRsi)).attr('fill', 'none')
      .attr('stroke', '#ff7f0e').attr('stroke-width', 4.6).attr('stroke-linejoin', 'round');
    axes(R, yRsi, rsiMajor, rsiMinor, d3.format('d'), true);
    ylabel('RSI(14)', 36, R);
    legend(160, 3616, [
      { type: 'line', label: 'RSI(14)', color: '#ff7f0e', width: 4.6 },
      { type: 'line', label: 'Overbought (70)', color: '#ff0000', dash: '11,5', opacity: 0.8, width: 3.4 },
      { type: 'line', label: 'Oversold (30)', color: '#008000', dash: '11,5', opacity: 0.8, width: 3.4 }
    ]);

    // ---- title ----
    svg.append('text').attr('x', W / 2).attr('y', 60)
      .attr('text-anchor', 'middle').attr('font-size', 49).attr('font-weight', 'bold')
      .style('white-space', 'pre').attr('fill', '#000').text(titleText);
  </script>
</body>
</html>
